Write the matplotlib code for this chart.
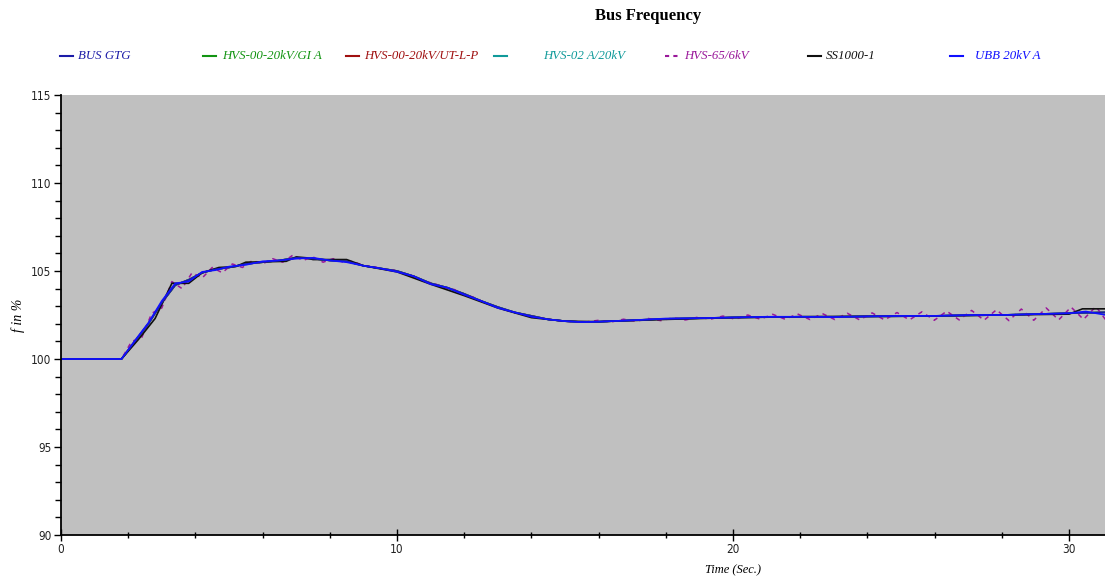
import numpy as np
import matplotlib
matplotlib.use("Agg")
import matplotlib.pyplot as plt
from matplotlib.lines import Line2D

# ---- data ----
series_names = ["BUS GTG", "HVS-00-20kV/GI A", "HVS-00-20kV/UT-L-P",
                "HVS-02 A/20kV", "HVS-65/6kV", "SS1000-1", "UBB 20kV A"]
series_colors = ["#1c1ca8", "#129412", "#a01010", "#109a9a", "#9a189a", "#101010", "#1010ff"]

t_main = [0, 1.8, 2.2, 2.6, 3.0, 3.4, 3.8, 4.2, 4.6, 5.0, 5.5, 6.0, 6.5, 7.0, 7.5, 8.0,
          8.5, 9.0, 9.5, 10.0, 10.5, 11.0, 11.5, 12.0, 12.5, 13.0, 13.5, 14.0, 14.5, 15.0,
          15.5, 16.0, 17.0, 18.0, 19.0, 20.0, 21, 22, 23, 24, 25, 26, 27, 28, 29, 30, 31.1]
f_main = [100, 100, 101.0, 102.0, 103.2, 104.2, 104.5, 104.9, 105.1, 105.2, 105.4, 105.5,
          105.6, 105.75, 105.7, 105.6, 105.55, 105.3, 105.15, 105.0, 104.7, 104.3, 104.05,
          103.7, 103.3, 102.95, 102.65, 102.45, 102.25, 102.15, 102.1, 102.12, 102.2, 102.28,
          102.32, 102.36, 102.38, 102.4, 102.4, 102.42, 102.43, 102.45, 102.48, 102.5, 102.55,
          102.6, 102.65]

t_ubb = [0, 1.8, 2.2, 2.6, 3.0, 3.4, 3.8, 4.2, 4.6, 5.0, 5.5, 6.0, 6.5, 7.0, 7.5, 8.0,
         8.5, 9.0, 9.5, 10.0, 10.5, 11.0, 11.5, 12.0, 12.5, 13.0, 13.5, 14.0, 14.5, 15.0,
         15.5, 16.0, 17.0, 18.0, 19.0, 20.0, 21, 22, 23, 24, 25, 26, 27, 28, 29, 30, 30.5, 31.1]
f_ubb = [100, 100, 101.05, 102.05, 103.3, 104.3, 104.4, 104.95, 105.05, 105.25, 105.35, 105.55,
         105.6, 105.7, 105.75, 105.6, 105.5, 105.3, 105.15, 104.95, 104.7, 104.25, 104.05,
         103.65, 103.3, 102.9, 102.65, 102.4, 102.25, 102.15, 102.1, 102.12, 102.2, 102.3,
         102.32, 102.36, 102.4, 102.4, 102.38, 102.42, 102.45, 102.45, 102.5, 102.5, 102.55,
         102.6, 102.7, 102.5]

t_ss = [0, 1.8, 2.3, 2.8, 3.3, 3.8, 4.2, 4.7, 5.2, 5.5, 6.7, 7.0, 7.3, 7.5, 8.5, 9.0, 10, 11,
        12, 13, 14, 15, 16, 18, 20, 22, 24, 26, 28, 30, 30.4, 31.1]
f_ss = [100, 100, 101.1, 102.3, 104.3, 104.3, 104.9, 105.2, 105.25, 105.5, 105.55, 105.8,
        105.75, 105.65, 105.65, 105.3, 104.95, 104.25, 103.6, 102.9, 102.35, 102.15, 102.12,
        102.25, 102.35, 102.4, 102.42, 102.45, 102.5, 102.55, 102.85, 102.85]

t_h65 = [0, 1.8, 2.1, 2.4, 2.7, 3.0, 3.3, 3.6, 3.9, 4.2, 4.5, 4.8, 5.1, 5.4, 5.7, 6.0, 6.3,
         6.6, 6.9, 7.2, 7.5, 7.8, 8.1, 8.4, 8.7, 9.0, 9.3, 9.6, 9.9, 10.2, 10.5, 10.8, 11.1,
         11.4, 11.7, 12.0, 12.3, 12.6, 12.9, 13.2, 13.5, 13.8, 14.1, 14.4, 14.7, 15.0, 15.3,
         15.6, 16.0, 16.37, 16.74, 17.11, 17.48, 17.85, 18.22, 18.59, 18.96, 19.33, 19.7,
         20.07, 20.44, 20.81, 21.18, 21.55, 21.92, 22.29, 22.66, 23.03, 23.4, 23.77, 24.14,
         24.51, 24.88, 25.25, 25.62, 25.99, 26.36, 26.73, 27.1, 27.47, 27.84, 28.21, 28.58,
         28.95, 29.32, 29.69, 30.06, 30.43, 30.8, 31.1]
f_h65 = [100, 100, 101.0, 101.2, 102.6, 102.9, 104.4, 104.0, 104.9, 104.6, 105.2, 104.9,
         105.4, 105.2, 105.6, 105.4, 105.7, 105.5, 105.9, 105.6, 105.8, 105.5, 105.7, 105.5,
         105.55, 105.3, 105.25, 105.1, 105.05, 104.85, 104.7, 104.4, 104.3, 104.05, 103.95,
         103.65, 103.5, 103.2, 103.0, 102.8, 102.65, 102.5, 102.4, 102.3, 102.2, 102.15, 102.1,
         102.1, 102.2, 102.1, 102.26, 102.14, 102.3, 102.18, 102.34, 102.22, 102.38, 102.26,
         102.44, 102.26, 102.5, 102.26, 102.54, 102.26, 102.56, 102.24, 102.58, 102.24, 102.6,
         102.22, 102.62, 102.22, 102.64, 102.22, 102.68, 102.2, 102.72, 102.22, 102.76, 102.2,
         102.8, 102.18, 102.84, 102.2, 102.9, 102.22, 102.95, 102.25, 102.98, 102.2]

x_ticks = [0, 10, 20, 30]
y_ticks = [90, 95, 100, 105, 110, 115]

# ---- figure ----
fig = plt.figure(figsize=(11.05, 5.79), dpi=100)
ax = fig.add_axes([61 / 1105, 1 - 535 / 579, 1 - 61 / 1105, (535 - 95) / 579])
ax.set_facecolor("#c0c0c0")

lw = 1.2
ax.plot(t_main, f_main, color=series_colors[1], lw=lw)
ax.plot(t_main, f_main, color=series_colors[2], lw=lw)
ax.plot(t_main, f_main, color=series_colors[3], lw=lw)
ax.plot(t_h65, f_h65, color=series_colors[4], lw=1.1, ls=(0, (3, 3)))
ax.plot(t_ss, f_ss, color=series_colors[5], lw=lw)
ax.plot(t_main, f_main, color=series_colors[0], lw=lw)
ax.plot(t_ubb, f_ubb, color=series_colors[6], lw=lw)

ax.set_xlim(0, 31.07)
ax.set_ylim(90, 115)
ax.set_xticks(x_ticks)
ax.set_yticks(y_ticks)
ax.set_xticks(np.arange(0, 31, 2), minor=True)
ax.set_yticks(np.arange(90, 116, 1), minor=True)
for s in ["top", "right"]:
    ax.spines[s].set_visible(False)
ax.spines["left"].set_linewidth(1.3)
ax.spines["bottom"].set_linewidth(1.3)
ax.tick_params(axis="x", which="major", direction="inout", length=9, width=1, pad=1)
ax.tick_params(axis="x", which="minor", direction="inout", length=5, width=1)
ax.tick_params(axis="y", which="major", direction="out", length=5, width=1, pad=2)
ax.tick_params(axis="y", which="minor", direction="out", length=4, width=1)
ax.tick_params(which="both", labelsize=8.5, labelcolor="#222222")
for lab in ax.get_xticklabels() + ax.get_yticklabels():
    lab.set_fontfamily("DejaVu Sans")
    lab.set_fontstretch("condensed")

serif = "Liberation Serif"
fig.text(733 / 1105, 1 - 570 / 579, "Time (Sec.)", fontfamily=serif, fontstyle="italic",
         fontsize=9, ha="center", va="center")
fig.text(18 / 1105, 1 - 315 / 579, "f in %", fontfamily=serif, fontstyle="italic",
         fontsize=10, ha="center", va="center", rotation=90)

fig.text(648 / 1105, 1 - 16 / 579, "Bus Frequency", fontfamily=serif, fontweight="bold",
         fontsize=12, ha="center", va="center")

# legend row (manual placement)
handle_x = [60, 203, 346, 494, 665, 808, 950]
text_x = [78, 222, 364, 543, 684, 826, 975]
ly = 1 - 56 / 579
for name, col, hx, tx, i in zip(series_names, series_colors, handle_x, text_x, range(7)):
    ls = (0, (2, 2)) if i == 4 else "-"
    fig.add_artist(Line2D([hx / 1105, (hx + 13) / 1105], [ly, ly], color=col, lw=1.5, ls=ls))
    fig.text(tx / 1105, ly, name, color=col, fontfamily=serif, fontstyle="italic",
             fontsize=9.3, ha="left", va="center")

fig.savefig("out.png", dpi=100)
